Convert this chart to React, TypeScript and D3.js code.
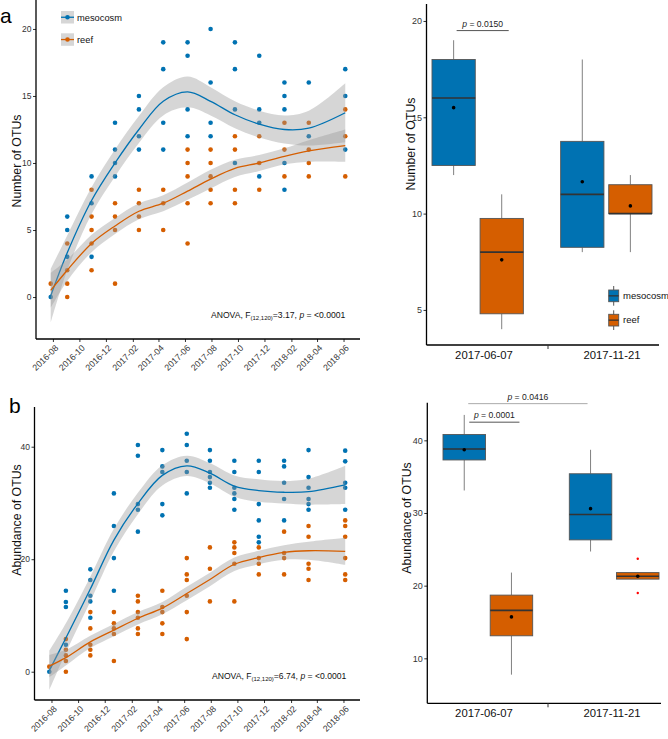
import * as d3 from "d3";
import { useEffect, useRef } from "react";

const FONT = "'Liberation Sans', Arial, Helvetica, sans-serif";

// sampling dates (13 groups)
const sampleDates = [
  "2016-07-27", "2016-09-03", "2016-10-29", "2016-12-22", "2017-02-15", "2017-04-12",
  "2017-06-07", "2017-07-30", "2017-09-24", "2017-11-19", "2018-01-16", "2018-03-13", "2018-06-05",
];
const monthTicks = [
  "2016-08", "2016-10", "2016-12", "2017-02", "2017-04", "2017-06",
  "2017-08", "2017-10", "2017-12", "2018-02", "2018-04", "2018-06",
];
const seriesNames = ["mesocosm", "reef"];
const seriesColors = ["#0072B2", "#D55E00"];

// panel a - number of OTUs
const otuMeso = [
  [0], [6, 5, 3], [9, 7, 3], [13, 11, 10, 9], [15, 14, 12, 11], [19, 17, 13, 11],
  [19, 18, 14, 12], [20, 16, 13, 12], [19, 17, 14, 10], [18, 14, 13, 9],
  [16, 15, 14, 10, 8], [16, 12], [17, 15, 11],
];
const otuReef = [
  [1], [4, 2, 1, 0], [8, 6, 5, 4, 2], [7, 6, 5, 1], [8, 7, 6, 5], [8, 7, 5],
  [11, 10, 9, 7, 4], [11, 10, 9, 8, 7], [12, 11, 8, 7], [12, 10, 8],
  [13, 11, 9], [13, 11, 10, 9], [14, 12, 9],
];
const otuMesoFit = [0.1, 3.3, 7.2, 10.0, 12.5, 14.6, 15.3, 14.6, 13.6, 12.9, 12.5, 12.6, 13.75];
const otuMesoSe = [2.0, 1.3, 1.0, 1.0, 1.0, 1.05, 1.15, 1.05, 1.0, 1.0, 1.05, 1.3, 2.2];
const otuReefFit = [0.5, 2.0, 4.0, 5.3, 6.4, 7.0, 7.9, 8.8, 9.6, 10.0, 10.5, 10.9, 11.3];
const otuReefSe = [1.3, 0.8, 0.65, 0.6, 0.6, 0.6, 0.65, 0.7, 0.65, 0.6, 0.6, 0.8, 1.2];

// panel b - abundance of OTUs
const abuMeso = [
  [0], [14.4, 12.4, 11.5, 4.8], [18.2, 16.3, 13.5, 12.5, 9.6], [31.7, 25.9, 20.2, 14.4],
  [40.3, 38.4, 29.8, 28.8, 24.9], [39.4, 36.5, 35.5, 29.8, 27.8], [42.3, 40.3, 37.5, 35.5, 31.7],
  [39.4, 37.5, 35.5, 34.6, 33.6, 32.7], [37.5, 35.5, 32.7, 31.7, 30.7, 28.8],
  [37.5, 35.5, 29.8, 26.9, 24.0, 23.0], [37.5, 36.5, 33.6, 30.7, 26.9],
  [39.4, 34.6, 32.7, 30.7, 29.8, 28.8], [39.3, 37.4, 33.6, 32.7, 28.8],
];
const abuReef = [
  [0.9], [5.8, 3.9, 2.9, 1.9, 0], [10.6, 7.7, 4.8, 3.9, 2.9], [10.6, 8.6, 7.7, 6.7, 1.9],
  [13.5, 12.5, 10.6, 9.6, 7.7, 6.7], [14.4, 11.5, 10.6, 8.6, 6.7], [20.2, 17.3, 16.3, 13.5, 10.6, 5.8],
  [22.1, 18.3, 12.5], [23.0, 22.1, 21.1, 19.2, 12.5], [22.1, 20.2, 19.2, 17.3],
  [24.9, 21.1, 20.2, 17.3], [25.9, 24.0, 19.2, 18.3, 16.3], [26.9, 25.9, 24.0, 20.2, 17.3, 16.3],
];
const abuMesoFit = [0.2, 6.0, 14.7, 23.4, 29.9, 34.9, 36.6, 35.3, 33.0, 32.2, 31.9, 32.0, 33.2];
const abuMesoSe = [3.5, 2.6, 2.2, 2.0, 1.9, 1.8, 1.8, 1.8, 1.9, 2.0, 2.0, 2.3, 3.4];
const abuReefFit = [1.0, 2.5, 5.3, 7.4, 9.5, 11.3, 13.9, 16.4, 19.1, 20.3, 21.2, 21.5, 21.4];
const abuReefSe = [2.0, 1.4, 1.1, 1.1, 1.1, 1.1, 1.2, 1.2, 1.2, 1.2, 1.3, 1.6, 2.4];

// box plots
const boxDates = ["2017-06-07", "2017-11-21"];
type BoxStat = { date: string; group: string; lo: number; q1: number; med: number; q3: number; hi: number; mean: number; out: number[] };
const otuBoxStats: BoxStat[] = [
  { date: "2017-06-07", group: "mesocosm", lo: 12, q1: 12.5, med: 16, q3: 18, hi: 19, mean: 15.5, out: [] },
  { date: "2017-06-07", group: "reef", lo: 4, q1: 4.8, med: 8, q3: 9.75, hi: 11, mean: 7.6, out: [] },
  { date: "2017-11-21", group: "mesocosm", lo: 8, q1: 8.25, med: 11, q3: 13.75, hi: 18, mean: 11.65, out: [] },
  { date: "2017-11-21", group: "reef", lo: 8, q1: 10, med: 10, q3: 11.5, hi: 12, mean: 10.4, out: [] },
];
const abuBoxStats: BoxStat[] = [
  { date: "2017-06-07", group: "mesocosm", lo: 33.1, q1: 37.3, med: 38.8, q3: 40.8, hi: 43.5, mean: 38.7, out: [] },
  { date: "2017-06-07", group: "reef", lo: 7.75, q1: 13.1, med: 16.6, q3: 18.7, hi: 21.8, mean: 15.7, out: [] },
  { date: "2017-11-21", group: "mesocosm", lo: 24.7, q1: 26.3, med: 29.8, q3: 35.4, hi: 38.7, mean: 30.6, out: [] },
  { date: "2017-11-21", group: "reef", lo: 21.3, q1: 20.9, med: 21.3, q3: 21.8, hi: 21.3, mean: 21.3, out: [23.7, 19.0] },
];
const otuPairs = [{ from: 0, to: 1, at: 19.5, p: "0.0150" }];
const abuPairs = [
  { from: 0, to: 1, at: 42.5, p: "0.0001" },
  { from: 0, to: 2, at: 45.05, p: "0.0416" },
];

type Sel = d3.Selection<SVGSVGElement, unknown, null, undefined>;

function styleAxis(g: d3.Selection<SVGGElement, unknown, null, undefined>, size: number, color: string) {
  g.select(".domain").remove();
  g.selectAll(".tick line").attr("stroke", "#333").attr("stroke-width", 1);
  g.selectAll(".tick text").attr("font-size", size).attr("fill", color).attr("font-family", FONT);
}

function drawTrend(svg: Sel, cfg: any) {
  const parse = d3.timeParse("%Y-%m-%d");
  const dates = sampleDates.map((d) => parse(d) as Date);
  const [d0, d1] = d3.extent(dates) as [Date, Date];
  const span = +d1 - +d0;
  const x = d3
    .scaleTime()
    .domain([new Date(+d0 - span * 0.05), new Date(+d1 + span * 0.05)])
    .range([cfg.left, cfg.right]);
  const y = d3.scaleLinear().domain(cfg.yDomain).range([cfg.bottom, cfg.top]);

  const g = svg.append("g");
  const series = [
    { vals: cfg.meso, fit: cfg.mesoFit, se: cfg.mesoSe, color: seriesColors[0] },
    { vals: cfg.reef, fit: cfg.reefFit, se: cfg.reefSe, color: seriesColors[1] },
  ];

  // points
  series.forEach((s) => {
    const pts = (s.vals as number[][]).flatMap((vs, i) => vs.map((v) => ({ d: dates[i], v })));
    g.append("g")
      .selectAll("circle")
      .data(pts)
      .join("circle")
      .attr("cx", (d) => x(d.d))
      .attr("cy", (d) => y(d.v))
      .attr("r", 2.3)
      .attr("fill", s.color);
  });

  // loess ribbons + lines
  series.forEach((s) => {
    const area = d3
      .area<number>()
      .x((_, i) => x(dates[i]))
      .y0((f, i) => y(f - s.se[i]))
      .y1((f, i) => y(f + s.se[i]))
      .curve(d3.curveCatmullRom);
    g.append("path").datum(s.fit).attr("d", area).attr("fill", "#999").attr("fill-opacity", 0.4);
    const line = d3
      .line<number>()
      .x((_, i) => x(dates[i]))
      .y((f) => y(f))
      .curve(d3.curveCatmullRom);
    g.append("path")
      .datum(s.fit)
      .attr("d", line)
      .attr("fill", "none")
      .attr("stroke", s.color)
      .attr("stroke-width", 1.3);
  });

  // axes
  const yAx = g
    .append("g")
    .attr("transform", `translate(${cfg.left},0)`)
    .call(d3.axisLeft(y).tickValues(cfg.yTicks).tickSize(3).tickPadding(1.5));
  styleAxis(yAx, 8.5, "#333");

  const parseM = d3.timeParse("%Y-%m");
  const xAx = g
    .append("g")
    .attr("transform", `translate(0,${cfg.bottom})`)
    .call(
      d3
        .axisBottom(x)
        .tickValues(monthTicks.map((m) => parseM(m) as Date))
        .tickFormat(d3.timeFormat("%Y-%m") as any)
        .tickSize(3)
    );
  styleAxis(xAx, 8.8, "#333");
  xAx
    .selectAll(".tick text")
    .attr("x", 0)
    .attr("y", 0)
    .attr("dy", "0.72em")
    .attr("text-anchor", "end")
    .attr("transform", "translate(1,5) rotate(-45)");

  g.append("line")
    .attr("x1", cfg.left).attr("x2", cfg.left)
    .attr("y1", cfg.top).attr("y2", cfg.bottom)
    .attr("stroke", "#000").attr("stroke-width", 1.3);
  g.append("line")
    .attr("x1", cfg.left).attr("x2", cfg.right)
    .attr("y1", cfg.bottom).attr("y2", cfg.bottom)
    .attr("stroke", "#000").attr("stroke-width", 1.3);

  g.append("text")
    .attr("transform", `translate(${cfg.titleX},${cfg.titleY}) rotate(-90)`)
    .attr("text-anchor", "middle")
    .attr("font-size", 12.3)
    .attr("fill", "#111")
    .text(cfg.title);

  const an = g
    .append("text")
    .attr("x", cfg.anovaX)
    .attr("y", cfg.anovaY)
    .attr("font-size", 8.6)
    .attr("fill", "#111");
  an.append("tspan").text("ANOVA, F");
  an.append("tspan").attr("font-size", 6).attr("dy", 2).text("(12,120)");
  an.append("tspan").attr("dy", -2).text(`=${cfg.anovaF}, `);
  an.append("tspan").attr("font-style", "italic").text("p");
  an.append("tspan").text(" = <0.0001");

  g.append("text")
    .attr("x", cfg.tagX)
    .attr("y", cfg.tagY)
    .attr("font-size", 21)
    .attr("fill", "#000")
    .text(cfg.tag);

  if (cfg.legend) {
    seriesNames.forEach((name, i) => {
      const ky = 11 + i * 22.3;
      const lg = g.append("g");
      lg.append("rect").attr("x", 61).attr("y", ky).attr("width", 13).attr("height", 12.5).attr("fill", "#999").attr("fill-opacity", 0.4);
      lg.append("line").attr("x1", 61).attr("x2", 74).attr("y1", ky + 6.25).attr("y2", ky + 6.25).attr("stroke", seriesColors[i]).attr("stroke-width", 1.3);
      lg.append("circle").attr("cx", 67.5).attr("cy", ky + 6.25).attr("r", 2.3).attr("fill", seriesColors[i]);
      lg.append("text").attr("x", 77).attr("y", ky + 6.25).attr("dy", "0.35em").attr("font-size", 9.3).attr("fill", "#111").text(name);
    });
  }
}

function drawBoxes(svg: Sel, cfg: any) {
  const y = d3.scaleLinear().domain(cfg.yDomain).range([cfg.bottom, cfg.top]);
  const gx = d3.scaleBand().domain(boxDates).range(cfg.boxRange).paddingInner(0.29);
  const sx = d3.scaleBand().domain(seriesNames).range([0, gx.bandwidth()]).paddingInner(0.1);
  const lx = d3.scaleBand().domain(boxDates).range([420, 676]);
  const stats: BoxStat[] = cfg.stats;
  const bx = (s: BoxStat) => (gx(s.date) as number) + (sx(s.group) as number);
  const cx = (s: BoxStat) => bx(s) + sx.bandwidth() / 2;
  const col = (s: BoxStat) => seriesColors[seriesNames.indexOf(s.group)];

  const g = svg.append("g");
  stats.forEach((s) => {
    const c = cx(s);
    g.append("line").attr("x1", c).attr("x2", c).attr("y1", y(s.hi)).attr("y2", y(s.q3)).attr("stroke", "#808080").attr("stroke-width", 1);
    g.append("line").attr("x1", c).attr("x2", c).attr("y1", y(s.q1)).attr("y2", y(s.lo)).attr("stroke", "#808080").attr("stroke-width", 1);
    g.append("rect")
      .attr("x", bx(s))
      .attr("y", y(s.q3))
      .attr("width", sx.bandwidth())
      .attr("height", y(s.q1) - y(s.q3))
      .attr("fill", col(s))
      .attr("stroke", "#555")
      .attr("stroke-width", 0.9);
    g.append("line").attr("x1", bx(s)).attr("x2", bx(s) + sx.bandwidth()).attr("y1", y(s.med)).attr("y2", y(s.med)).attr("stroke", "#333").attr("stroke-width", 1.6);
    g.append("circle").attr("cx", c).attr("cy", y(s.mean)).attr("r", 1.8).attr("fill", "#000");
    s.out.forEach((o) => {
      g.append("circle").attr("cx", c).attr("cy", y(o)).attr("r", 1.2).attr("fill", "#ff0000");
    });
  });

  // significance brackets
  cfg.pairs.forEach((p: any, i: number) => {
    const off = cfg.pairOffsets[i];
    const x1 = cx(stats[p.from]) + off[0];
    const x2 = cx(stats[p.to]) + off[1];
    g.append("line").attr("x1", x1).attr("x2", x2).attr("y1", y(p.at)).attr("y2", y(p.at)).attr("stroke", cfg.pairColors[i]).attr("stroke-width", 1);
    const t = g.append("text").attr("x", (x1 + x2) / 2).attr("y", y(p.at) - 4).attr("text-anchor", "middle").attr("font-size", 8.6).attr("fill", "#222");
    t.append("tspan").attr("font-style", "italic").text("p");
    t.append("tspan").text(` = ${p.p}`);
  });

  const yAx = g
    .append("g")
    .attr("transform", `translate(${cfg.left},0)`)
    .call(d3.axisLeft(y).tickValues(cfg.yTicks).tickSize(3).tickPadding(1.5));
  styleAxis(yAx, 9, "#333");

  g.append("line").attr("x1", cfg.left).attr("x2", cfg.left).attr("y1", cfg.top).attr("y2", cfg.bottom).attr("stroke", "#000").attr("stroke-width", 1.3);
  g.append("line").attr("x1", cfg.left).attr("x2", cfg.right).attr("y1", cfg.bottom).attr("y2", cfg.bottom).attr("stroke", "#000").attr("stroke-width", 1.3);
  g.append("line")
    .attr("x1", lx(boxDates[1]) as number).attr("x2", lx(boxDates[1]) as number)
    .attr("y1", cfg.bottom).attr("y2", cfg.bottom + 4)
    .attr("stroke", "#333").attr("stroke-width", 1);

  boxDates.forEach((d) => {
    g.append("text")
      .attr("x", (lx(d) as number) + lx.bandwidth() / 2)
      .attr("y", cfg.labelY)
      .attr("text-anchor", "middle")
      .attr("font-size", 11.3)
      .attr("fill", "#111")
      .text(d);
  });

  g.append("text")
    .attr("transform", `translate(${cfg.titleX},${cfg.titleY}) rotate(-90)`)
    .attr("text-anchor", "middle")
    .attr("font-size", 12.3)
    .attr("fill", "#111")
    .text(cfg.title);

  if (cfg.legend) {
    seriesNames.forEach((name, i) => {
      const ky = 290 + i * 24.3;
      const lg = g.append("g");
      lg.append("line").attr("x1", 613.7).attr("x2", 613.7).attr("y1", ky - 4).attr("y2", ky + 15.7).attr("stroke", "#555").attr("stroke-width", 1);
      lg.append("rect").attr("x", 608.7).attr("y", ky).attr("width", 10).attr("height", 11.7).attr("fill", seriesColors[i]).attr("stroke", "#555").attr("stroke-width", 0.9);
      lg.append("line").attr("x1", 608.7).attr("x2", 618.7).attr("y1", ky + 5.85).attr("y2", ky + 5.85).attr("stroke", "#333").attr("stroke-width", 1.3);
      lg.append("text").attr("x", 623).attr("y", ky + 5.85).attr("dy", "0.35em").attr("font-size", 9.5).attr("fill", "#111").text(name);
    });
  }
}

const App: React.FC = () => {
  const ref = useRef<HTMLDivElement | null>(null);

  useEffect(() => {
    if (!ref.current) return;
    const root = d3.select(ref.current);
    root.selectAll("*").remove();
    const svg = root
      .append("svg")
      .attr("width", 668)
      .attr("height", 739)
      .style("display", "block")
      .style("font-family", FONT) as unknown as Sel;
    svg.append("rect").attr("width", 668).attr("height", 739).attr("fill", "#fff");

    drawTrend(svg, {
      left: 36, right: 360, top: 0, bottom: 339,
      yDomain: [-3.13, 22.16], yTicks: [0, 5, 10, 15, 20],
      meso: otuMeso, reef: otuReef,
      mesoFit: otuMesoFit, mesoSe: otuMesoSe, reefFit: otuReefFit, reefSe: otuReefSe,
      title: "Number of OTUs", titleX: 21, titleY: 161,
      anovaF: "3.17", anovaX: 211, anovaY: 318,
      tag: "a", tagX: 0, tagY: 23, legend: true,
    });
    drawTrend(svg, {
      left: 34.5, right: 360, top: 407, bottom: 700,
      yDomain: [-5.03, 47.06], yTicks: [0, 20, 40],
      meso: abuMeso, reef: abuReef,
      mesoFit: abuMesoFit, mesoSe: abuMesoSe, reefFit: abuReefFit, reefSe: abuReefSe,
      title: "Abundance of OTUs", titleX: 21, titleY: 520,
      anovaF: "6.74", anovaX: 212, anovaY: 679,
      tag: "b", tagX: 9, tagY: 413, legend: false,
    });
    drawBoxes(svg, {
      left: 426.5, right: 659, top: 4, bottom: 345,
      yDomain: [3.18, 20.88], yTicks: [5, 10, 15, 20],
      boxRange: [432, 652], stats: otuBoxStats,
      pairs: otuPairs, pairOffsets: [[3, 7]], pairColors: ["#555"],
      title: "Number of OTUs", titleX: 415, titleY: 144, labelY: 359, legend: true,
    });
    drawBoxes(svg, {
      left: 427.3, right: 661, top: 402.7, bottom: 703.3,
      yDomain: [3.81, 45.18], yTicks: [10, 20, 30, 40],
      boxRange: [443, 659], stats: abuBoxStats,
      pairs: abuPairs, pairOffsets: [[5, 8], [4, -3]], pairColors: ["#555", "#aaa"],
      title: "Abundance of OTUs", titleX: 411, titleY: 518, labelY: 717, legend: false,
    });
  }, []);

  return <div ref={ref} style={{ position: "absolute", left: 0, top: 0 }} />;
};

export default App;
